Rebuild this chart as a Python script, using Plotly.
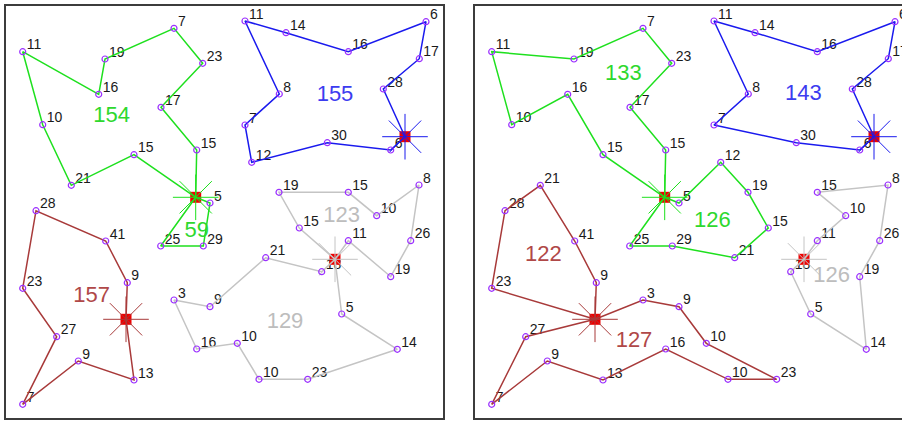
import plotly.graph_objects as go

# Customer locations (x to the right, y downward) and their demands
cust_x = [196.7, 161.0, 202.7, 174.0, 105.0, 98.7, 22.7, 42.7, 71.3, 134.0,
          210.0, 203.3, 160.7, 245.0, 286.0, 348.3, 426.0, 419.3, 383.3, 390.7,
          327.3, 251.7, 245.0, 279.3, 279.0, 348.3, 376.7, 419.0, 410.7, 390.7,
          348.3, 299.3, 265.7, 321.7, 341.7, 397.3, 307.7, 259.0, 237.3, 196.7,
          174.0, 210.0, 36.0, 105.7, 127.3, 134.0, 78.3, 22.7, 56.7, 22.7]
cust_y = [150.0, 107.3, 63.3, 28.3, 59.0, 94.3, 51.7, 124.7, 185.3, 154.7,
          203.0, 246.0, 246.0, 21.0, 32.7, 51.7, 21.7, 58.7, 89.0, 150.0,
          142.7, 162.3, 125.0, 94.0, 192.3, 192.3, 215.7, 185.0, 240.7, 276.7,
          240.7, 228.0, 257.7, 271.7, 314.0, 349.3, 379.3, 379.3, 343.3, 349.0,
          300.0, 306.7, 210.7, 241.0, 282.7, 380.0, 361.0, 404.3, 336.7, 288.3]
demand = [15, 17, 23, 7, 19, 16, 11, 10, 21, 15,
          5, 29, 25, 11, 14, 16, 6, 17, 28, 6,
          30, 12, 7, 8, 19, 15, 10, 8, 26, 19,
          11, 15, 21, 18, 5, 14, 23, 10, 10, 16,
          3, 9, 28, 41, 9, 13, 9, 7, 27, 23]

# Depots
GREEN, BLUE, GRAY, MAROON = "#1ee01e", "#1a1aee", "#c4c4c4", "#a83a3a"
depot_x = [195.7, 405.0, 335.0, 126.0]
depot_y = [197.3, 136.7, 259.3, 319.3]
depot_color = [GREEN, BLUE, GRAY, MAROON]
label_color = {GREEN: "#2ed82e", BLUE: "#3c3cf0", GRAY: "#bdbdbd", MAROON: "#b04848"}

# Solution A: (depot, visiting sequence)
routes_a = [
    (0, [0, 1, 2, 3, 4, 5, 6, 7, 8, 9]),
    (0, [10, 11, 12]),
    (1, [18, 17, 16, 15, 14, 13, 23, 22, 21, 20, 19]),
    (2, [31, 24, 25, 26, 27, 28, 29, 30]),
    (2, [34, 35, 36, 37, 38, 39, 40, 41, 32, 33]),
    (3, [44, 43, 42, 49, 48, 47, 46, 45]),
]
load_pos_a = [(111.7, 116.7), (196.7, 231.7), (335.0, 95.0),
              (341.7, 216.7), (285.0, 322.3), (91.7, 296.7)]

# Solution B
routes_b = [
    (0, [0, 1, 2, 3, 4, 6, 7, 5, 9]),
    (0, [10, 21, 24, 31, 32, 11, 12]),
    (1, [18, 17, 16, 15, 14, 13, 23, 22, 20, 19]),
    (2, [30, 26, 25, 27, 28, 29, 35, 34, 33]),
    (3, [44, 43, 8, 42, 49]),
    (3, [40, 41, 38, 36, 37, 39, 45, 46, 47, 48]),
]
load_pos_b = [(154.3, 74.0), (243.3, 221.0), (334.3, 94.3),
              (362.7, 276.7), (74.3, 255.0), (165.0, 341.0)]

W, H = 902, 421
LABEL_DX, LABEL_DY = 4, -6  # demand labels sit just above-right of each customer
fig = go.Figure()


def draw_solution(routes, load_pos, xa, ya):
    # demand labels
    fig.add_trace(go.Scatter(
        x=[v + LABEL_DX for v in cust_x], y=[v + LABEL_DY for v in cust_y],
        mode="text", xaxis=xa, yaxis=ya,
        text=[str(d) for d in demand], textposition="middle right",
        textfont=dict(family="Liberation Sans, Arial, sans-serif", size=14, color="#1a1a1a"),
        hoverinfo="skip", showlegend=False))
    # depots
    fig.add_trace(go.Scatter(
        x=depot_x, y=depot_y, mode="markers", xaxis=xa, yaxis=ya,
        marker=dict(symbol="square", size=11, color="#ee0000"),
        hoverinfo="skip", showlegend=False))
    fig.add_trace(go.Scatter(
        x=depot_x, y=depot_y, mode="markers", xaxis=xa, yaxis=ya,
        marker=dict(symbol="asterisk-open", size=38, color=depot_color,
                    line=dict(width=1, color=depot_color)),
        hoverinfo="skip", showlegend=False))
    # route polylines and route loads
    for (d, seq), (lx, ly) in zip(routes, load_pos):
        col = depot_color[d]
        xs = [depot_x[d]] + [cust_x[i] for i in seq] + [depot_x[d]]
        ys = [depot_y[d]] + [cust_y[i] for i in seq] + [depot_y[d]]
        fig.add_trace(go.Scatter(
            x=xs, y=ys, mode="lines", xaxis=xa, yaxis=ya,
            line=dict(color=col, width=1.5), hoverinfo="skip", showlegend=False))
        load = sum(demand[i] for i in seq)
        fig.add_trace(go.Scatter(
            x=[lx], y=[ly], mode="text", xaxis=xa, yaxis=ya,
            text=[str(load)], textposition="middle center",
            textfont=dict(family="Liberation Sans Narrow, Arial Narrow, Liberation Sans, sans-serif",
                          size=22, color=label_color[col]),
            hoverinfo="skip", showlegend=False))
    # customers
    fig.add_trace(go.Scatter(
        x=cust_x, y=cust_y, mode="markers", xaxis=xa, yaxis=ya,
        marker=dict(symbol="circle-open", size=6, color="#9b30ff", line=dict(width=1.2)),
        hoverinfo="skip", showlegend=False))


draw_solution(routes_a, load_pos_a, "x", "y")
draw_solution(routes_b, load_pos_b, "x2", "y2")

top, bottom = 6, 418
ydom = [1 - bottom / H, 1 - top / H]
frame = dict(showgrid=False, zeroline=False, showticklabels=False, ticks="",
             showline=True, linecolor="#3c3c3c", linewidth=2)

fig.update_layout(
    width=W, height=H, margin=dict(l=0, r=0, t=0, b=0),
    paper_bgcolor="white", plot_bgcolor="white",
    xaxis=dict(domain=[6 / W, 443 / W], range=[6, 443], mirror=True, **frame),
    yaxis=dict(domain=ydom, range=[bottom, top], mirror=True, **frame),
    xaxis2=dict(domain=[475 / W, 1.0], range=[6, 433], mirror=True, anchor="y2", **frame),
    yaxis2=dict(domain=ydom, range=[bottom, top], mirror=False, anchor="x2", **frame),
)

fig.write_html("out.html")
